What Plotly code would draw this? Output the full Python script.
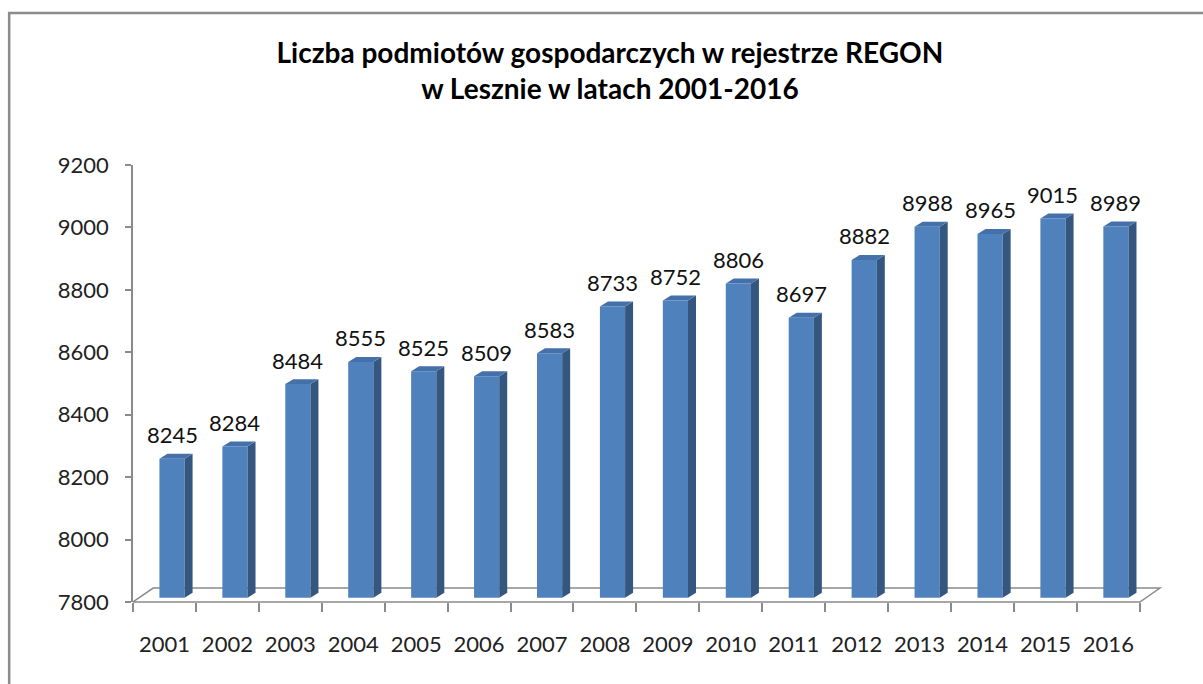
import plotly.graph_objects as go

# ---- data ----
years = ["2001", "2002", "2003", "2004", "2005", "2006", "2007", "2008",
         "2009", "2010", "2011", "2012", "2013", "2014", "2015", "2016"]
values = [8245, 8284, 8484, 8555, 8525, 8509, 8583, 8733,
          8752, 8806, 8697, 8882, 8988, 8965, 9015, 8989]
y_ticks = [7800, 8000, 8200, 8400, 8600, 8800, 9000, 9200]
title_lines = ["Liczba podmiotów gospodarczych w rejestrze REGON",
               "w Lesznie w latach 2001-2016"]

# ---- style constants (3D look) ----
FONT = "Lato"
FRONT = "#4F81BD"
SIDE = "#35567F"
TOP = "#4571AB"
AXIS_GREY = "#8a8a8a"
BAR_W = 0.40       # bar width (category units)
BAR_OFF = -0.08    # bar left edge relative to category centre
DEPTH_X = 0.127    # bar depth, x units
DEPTH_Y = 16       # bar depth, y units
FLOOR_DX = 0.32    # floor depth, x units
FLOOR_DY = 0.032   # floor depth, paper units
SHIFT = 14         # bars sit slightly back on the floor

y_min, y_max = y_ticks[0], y_ticks[-1]
idx = list(range(len(years)))
bounds = [i - 0.5 for i in range(len(years) + 1)]

fig = go.Figure()
# empty trace so the visible front y axis gets its subplot
fig.add_trace(go.Scatter(x=[], y=[], showlegend=False, hoverinfo="skip"))
fig.add_trace(go.Bar(
    x=idx, y=[v - y_min for v in values], base=y_min,
    width=BAR_W, offset=BAR_OFF, marker=dict(color=FRONT, line=dict(width=0)),
    yaxis="y2", hovertext=[str(v) for v in values], hoverinfo="text",
    showlegend=False,
))

shapes = []
# floor
shapes.append(dict(
    type="path", xref="x", yref="paper", layer="below",
    path=(f"M {bounds[0]},0 L {bounds[-1]},0 L {bounds[-1] + FLOOR_DX},{FLOOR_DY} "
          f"L {bounds[0] + FLOOR_DX},{FLOOR_DY} Z"),
    line=dict(color=AXIS_GREY, width=1.5), fillcolor="rgba(0,0,0,0)",
))
for i, v in zip(idx, values):
    xl = i + BAR_OFF
    xr = xl + BAR_W
    shapes.append(dict(
        type="path", xref="x", yref="y2", layer="above",
        path=(f"M {xr},{y_min} L {xr},{v} L {xr + DEPTH_X},{v + DEPTH_Y} "
              f"L {xr + DEPTH_X},{y_min + DEPTH_Y} Z"),
        fillcolor=SIDE, line=dict(width=0),
    ))
    shapes.append(dict(
        type="path", xref="x", yref="y2", layer="above",
        path=(f"M {xl},{v} L {xr},{v} L {xr + DEPTH_X},{v + DEPTH_Y} "
              f"L {xl + DEPTH_X},{v + DEPTH_Y} Z"),
        fillcolor=TOP, line=dict(width=0),
    ))
# outer frame
shapes.append(dict(
    type="rect", xref="paper", yref="paper",
    x0=-0.120, x1=1.06, y0=-0.30, y1=1.348,
    line=dict(color="#8c8c8c", width=2.5), fillcolor="rgba(0,0,0,0)",
))

annotations = []
for i, v in zip(idx, values):
    annotations.append(dict(
        x=i + BAR_OFF + BAR_W / 2, y=v, xref="x", yref="y2",
        text=str(v), showarrow=False, yanchor="middle", yshift=24,
        font=dict(family=FONT, size=22, color="#111"),
    ))

fig.update_layout(
    width=1203, height=684,
    paper_bgcolor="white", plot_bgcolor="white",
    margin=dict(l=133, r=38, t=165, b=82, autoexpand=False),
    title=dict(
        text="<br>".join(title_lines),
        x=0.507, xref="container", xanchor="center",
        y=1 - 63 / 684, yref="container", yanchor="middle",
        font=dict(family=FONT, size=28, color="#000", weight="bold"),
    ),
    xaxis=dict(
        range=[bounds[0], 15.9], tickmode="array", tickvals=idx, ticktext=years,
        ticks="", showline=False, showgrid=False, zeroline=False,
        tickfont=dict(family=FONT, size=22, color="#222"),
        ticklabelstandoff=27,
        minor=dict(tickmode="array", tickvals=bounds, ticks="outside",
                   ticklen=9, tickwidth=1.5, tickcolor=AXIS_GREY, showgrid=False),
    ),
    yaxis=dict(
        range=[y_min, y_max], tickmode="array", tickvals=y_ticks,
        ticks="outside", ticklen=6, tickwidth=1.5, tickcolor=AXIS_GREY,
        showline=True, linecolor=AXIS_GREY, linewidth=1.5,
        showgrid=False, zeroline=False, ticklabelstandoff=12,
        tickfont=dict(family=FONT, size=22, color="#222"),
    ),
    yaxis2=dict(
        overlaying="y", range=[y_min - SHIFT, y_max - SHIFT], visible=False,
    ),
    shapes=shapes,
    annotations=annotations,
)

fig.write_html("out.html", config={"displayModeBar": False},
               post_script="document.body.style.margin='0';")
